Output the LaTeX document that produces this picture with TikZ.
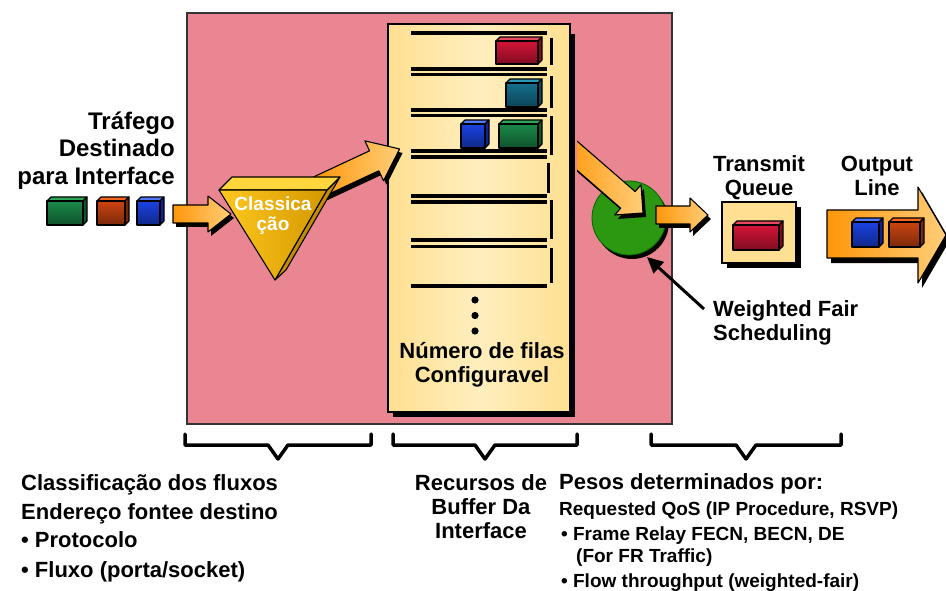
\documentclass[tikz,border=0pt]{standalone}
\usepackage{fontspec}
\setmainfont{Liberation Sans}
\usetikzlibrary{arrows.meta}

% palette
\definecolor{pinkbg}{RGB}{234,134,146}
\definecolor{bufA}{RGB}{255,224,146}
\definecolor{bufB}{RGB}{255,238,190}
\definecolor{arrA}{RGB}{255,150,10}
\definecolor{arrB}{RGB}{255,206,120}
\definecolor{goldF}{RGB}{255,200,30}
\definecolor{goldD}{RGB}{212,152,0}
\definecolor{goldT}{RGB}{255,214,60}
\definecolor{goldS}{RGB}{196,140,0}
\definecolor{wfqgreen}{RGB}{44,152,18}
\definecolor{redF}{RGB}{212,20,56}
\definecolor{redT}{RGB}{232,72,98}
\definecolor{redS}{RGB}{130,10,30}
\definecolor{tealF}{RGB}{20,112,142}
\definecolor{tealT}{RGB}{40,152,182}
\definecolor{tealS}{RGB}{10,70,90}
\definecolor{blueF}{RGB}{26,66,226}
\definecolor{blueT}{RGB}{82,122,246}
\definecolor{blueS}{RGB}{15,35,150}
\definecolor{grnF}{RGB}{26,136,72}
\definecolor{grnT}{RGB}{46,168,88}
\definecolor{grnS}{RGB}{10,86,40}
\definecolor{orgF}{RGB}{204,68,16}
\definecolor{orgT}{RGB}{246,102,32}
\definecolor{orgS}{RGB}{120,40,8}

\tikzset{
  big/.style={font=\fontsize{24}{28}\selectfont\bfseries, inner sep=0pt, text height=17.2pt, text depth=0pt},
  lbl/.style={font=\fontsize{22}{26}\selectfont\bfseries, inner sep=0pt, text height=15.8pt, text depth=0pt},
  sml/.style={font=\fontsize{19}{22}\selectfont\bfseries, inner sep=0pt, text height=13.6pt, text depth=0pt},
  pktedge/.style={draw=black, line width=1.1pt, line join=round},
  qline/.style={line width=3.5pt},
  qbar/.style={line width=3pt},
  bracket/.style={line width=3.5pt, line cap=round, line join=round},
  outline/.style={draw=black, line width=1.1pt, line join=round},
  flow/.style={outline, left color=arrA, right color=arrB},
}

% 3D packet: left x, top y, front width, total height, colour prefix
\newcommand\pktbox[5]{%
  \filldraw[pktedge, fill=#5T] (#1,#2+4) -- (#1+4,#2) -- (#1+#3+4,#2) -- (#1+#3,#2+4) -- cycle;
  \filldraw[pktedge, fill=#5S] (#1+#3,#2+4) -- (#1+#3+4,#2) -- (#1+#3+4,#2+#4-4) -- (#1+#3,#2+#4) -- cycle;
  \shade[top color=#5F, bottom color=#5F!60!black] (#1,#2+4) rectangle (#1+#3,#2+#4);
  \draw[pktedge] (#1,#2+4) rectangle (#1+#3,#2+#4);
}

% block arrows
\newcommand\inarrow[1]{\path[#1] (173,205) -- (208,205) -- (208,196) -- (231,214) -- (208,232) -- (208,223) -- (173,223) -- cycle;}
\newcommand\clsarrow[1]{\path[#1] (0,-11) -- (62,-11) -- (62,-22) -- (90,0) -- (62,22) -- (62,11) -- (0,11) -- cycle;}
\newcommand\wfqarrow[1]{\path[#1] (0,0) -- (-20,-20) -- (-20,-11) -- (-100,-11) -- (-100,11) -- (-20,11) -- (-20,20) -- cycle;}
\newcommand\txarrow[1]{\path[#1] (656,206) -- (690,206) -- (690,198) -- (708,215) -- (690,232) -- (690,224) -- (656,224) -- cycle;}
\newcommand\outarrow[1]{\path[#1] (827,210) -- (918,210) -- (918,187) -- (946,235) -- (918,283) -- (918,258) -- (827,258) -- cycle;}

\begin{document}
\begin{tikzpicture}[x=1pt,y=-1pt]
\useasboundingbox (0,0) rectangle (946,591);

% router interface area
\filldraw[fill=pinkbg, draw=black!80, line width=1.2pt] (187,13) rectangle (672,424);

% buffer panel
\fill[black] (393,34) rectangle (575,417);
\shade[left color=bufA, right color=bufA, middle color=bufB] (388,24) rectangle (570,412);
\draw[black, line width=1.2pt] (388,24) rectangle (570,412);

% queue slots
\foreach \yy in {33,69,74.5,110,115.5,151,157,196,202,240,246.5,286}
  \draw[qline] (411,\yy) -- (547,\yy);
\draw[qbar] (551,38) -- (551,65);
\draw[qbar] (551,76) -- (551,108);
\draw[qbar] (551,116) -- (551,155);
\draw[qbar] (548,163) -- (548,193);
\draw[qbar] (551,200) -- (551,239);
\draw[qbar] (551,248) -- (551,283);

% queued packets
\pktbox{496}{37}{42}{27}{red}
\pktbox{506}{79}{32}{28}{teal}
\pktbox{461}{120}{24}{28}{blue}
\pktbox{499}{120}{39}{28}{grn}

% more queues
\foreach \yy in {300,315.5,331}
  \fill (475,\yy) circle (3.6);
\node[lbl] (nq1) at (482,351) {Número de filas};
\node[lbl] (nq2) at (482,375) {Configuravel};

% incoming traffic
\node[big, anchor=east] (in1) at (175,121) {Tráfego};
\node[big, anchor=east] (in2) at (175,148) {Destinado};
\node[big, anchor=east] (in3) at (175,176) {para Interface};
\pktbox{47}{197}{36}{28}{grn}
\pktbox{97}{197}{28}{28}{org}
\pktbox{137}{197}{23}{28}{blue}
\inarrow{fill=black, shift={(3,4)}}
\inarrow{flow}

% classifier to buffer
\begin{scope}[shift={(321,191)}, rotate=25]
  \clsarrow{fill=black}
\end{scope}
\begin{scope}[shift={(318,187)}, rotate=25]
  \clsarrow{flow}
\end{scope}

% classifier prism
\filldraw[outline, fill=goldS] (327,190) -- (340,177) -- (286,270) -- (275,280) -- cycle;
\filldraw[outline, fill=goldT] (219,190) -- (232,177) -- (340,177) -- (327,190) -- cycle;
\shade[left color=goldF, right color=goldD] (219,190) -- (327,190) -- (275,280) -- cycle;
\draw[outline] (219,190) -- (327,190) -- (275,280) -- cycle;
\node[sml, text=white] (cls1) at (273,204) {Classica};
\node[sml, text=white] (cls2) at (273,224) {ção};

% weighted fair scheduler
\fill[black] (632,222) circle (37);
\node[circle, fill=wfqgreen, draw=black!60!green, line width=0.8pt, minimum size=74pt, inner sep=0pt] (wfq) at (629,218) {};
\begin{scope}
  \clip (577,0) rectangle (946,591);
  \begin{scope}[shift={(646,217)}, rotate=-41]
    \wfqarrow{fill=black}
  \end{scope}
  \begin{scope}[shift={(643,213)}, rotate=-41]
    \wfqarrow{flow}
  \end{scope}
\end{scope}
\txarrow{fill=black, shift={(3,4)}}
\txarrow{flow}

% transmit queue
\node[lbl] (tq1) at (759,164) {Transmit};
\node[lbl] (tq2) at (759,188) {Queue};
\fill[black] (727,207) rectangle (801,268);
\filldraw[fill=bufA, draw=black, line width=1.1pt] (722,202) rectangle (796,263);
\pktbox{733}{221}{46}{29}{red}

% output line
\node[lbl] (ol1) at (877,164) {Output};
\node[lbl] (ol2) at (877,188) {Line};
\outarrow{fill=black, shift={(4,5)}}
\outarrow{flow}
\pktbox{852}{218}{27}{29}{blue}
\pktbox{889}{218}{31}{29}{org}

% scheduler callout
\coordinate (ptrtail) at (704,309);
\coordinate (ptrtip) at (647,257);
\draw[line width=3pt, -{Triangle[length=16pt, width=15pt]}] (ptrtail) -- (ptrtip);
\node[lbl, anchor=west] (wf1) at (713,309) {Weighted Fair};
\node[lbl, anchor=west] (wf2) at (713,333) {Scheduling};

% stage brackets
\draw[bracket] (185,434) -- (185,445) -- (268,445) -- (278,459) -- (288,445) -- (371,445) -- (371,434);
\draw[bracket] (393,434) -- (393,445) -- (475,445) -- (485,459) -- (495,445) -- (577,445) -- (577,434);
\draw[bracket] (651,434) -- (651,445) -- (736,445) -- (746,459) -- (756,445) -- (841,445) -- (841,434);

% stage notes
\node[lbl, anchor=west] (c1) at (21,483) {Classificação dos fluxos};
\node[lbl, anchor=west] (c2) at (21,512) {Endereço fontee destino};
\node[lbl, anchor=west] (c3) at (21,540) {• Protocolo};
\node[lbl, anchor=west] (c4) at (21,570) {• Fluxo (porta/socket)};

\node[lbl] (r1) at (481,483) {Recursos de};
\node[lbl] (r2) at (481,507) {Buffer Da};
\node[lbl] (r3) at (481,531) {Interface};

\node[lbl, anchor=west] (p1) at (559,482) {Pesos determinados por:};
\node[sml, anchor=west] (p2) at (559,509) {Requested QoS (IP Procedure, RSVP)};
\node[sml, anchor=west] (p3) at (561,534) {• Frame Relay FECN, BECN, DE};
\node[sml, anchor=west] (p4) at (576,556) {(For FR Traffic)};
\node[sml, anchor=west] (p5) at (561,581) {• Flow throughput (weighted-fair)};
\end{tikzpicture}
\end{document}
